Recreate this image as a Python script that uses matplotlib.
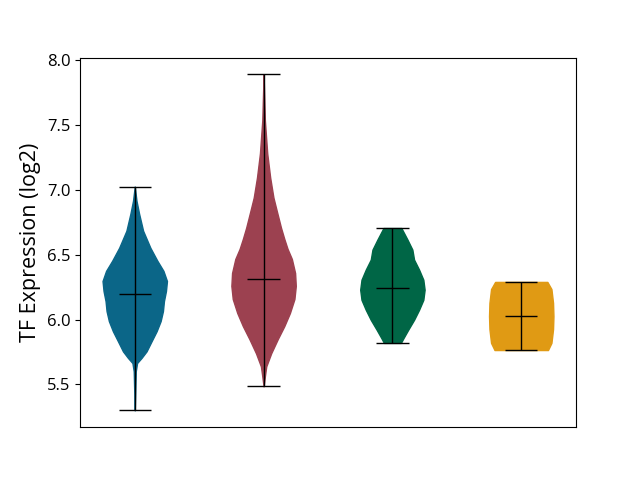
import matplotlib
matplotlib.use("Agg")
import matplotlib.pyplot as plt
import numpy as np

plt.rcParams['font.family'] = ['Open Sans', 'DejaVu Sans']

# Density profiles (y level, relative width)
v1_levels = [5.30, 5.446, 5.601, 5.665, 5.704, 5.755, 5.833, 5.910, 5.988, 6.065, 6.142,
             6.220, 6.297, 6.375, 6.452, 6.553, 6.684, 6.816, 6.916, 7.025]
v1_dens   = [0.0, 0.5, 1.0, 2.3, 6.7, 11.7, 16.7, 21.7, 25.7, 28.0, 29.0,
             31.0, 32.0, 28.5, 22.5, 15.5, 8.3, 4.3, 1.7, 0.0]
v2_levels = [5.485, 5.562, 5.639, 5.740, 5.848, 5.949, 6.050, 6.158, 6.259, 6.359, 6.467,
             6.545, 6.622, 6.707, 6.839, 6.940, 7.094, 7.280, 7.536, 7.75, 7.889]
v2_dens   = [0.0, 1.3, 2.7, 7.7, 14.3, 21.0, 26.7, 31.3, 32.7, 32.0, 28.7,
             24.3, 21.0, 17.7, 13.3, 10.0, 6.7, 3.7, 1.3, 0.5, 0.0]
v3_levels = [5.820, 5.856, 5.920, 5.998, 6.075, 6.152, 6.230, 6.307, 6.385, 6.462, 6.539, 6.617, 6.705]
v3_dens   = [8.5, 11.0, 15.7, 21.7, 26.7, 31.0, 32.3, 31.0, 26.7, 21.7, 20.0, 15.0, 9.0]
v4_levels = [5.765, 5.820, 5.926, 6.026, 6.129, 6.235, 6.290]
v4_dens   = [26.3, 29.7, 31.3, 31.7, 31.3, 29.7, 25.7]

means = [6.20, 6.31, 6.245, 6.03]
colors = ['#0b6688', '#9c4150', '#006646', '#e09a14']
ylabel = 'TF Expression (log2)'

levels = [v1_levels, v2_levels, v3_levels, v4_levels]
dens = [v1_dens, v2_dens, v3_dens, v4_dens]

vpstats = []
for lv, d, m in zip(levels, dens, means):
    lv = np.array(lv)
    vpstats.append(dict(coords=lv, vals=np.array(d), mean=m, median=m,
                        min=lv.min(), max=lv.max()))

fig, ax = plt.subplots(figsize=(6.4, 4.8), dpi=100)
parts = ax.violin(vpstats, positions=[1, 2, 3, 4], widths=0.5,
                  showmeans=True, showextrema=True)
for body, c in zip(parts['bodies'], colors):
    body.set_facecolor(c)
    body.set_edgecolor(c)
    body.set_alpha(1)
for key in ['cmeans', 'cmins', 'cmaxes', 'cbars']:
    parts[key].set_color('black')
    parts[key].set_linewidth(1.0)

ax.set_xticks([])
ax.set_ylabel(ylabel, fontsize=15.5)
ax.tick_params(axis='y', labelsize=12)
fig.savefig('out.png', dpi=100)
